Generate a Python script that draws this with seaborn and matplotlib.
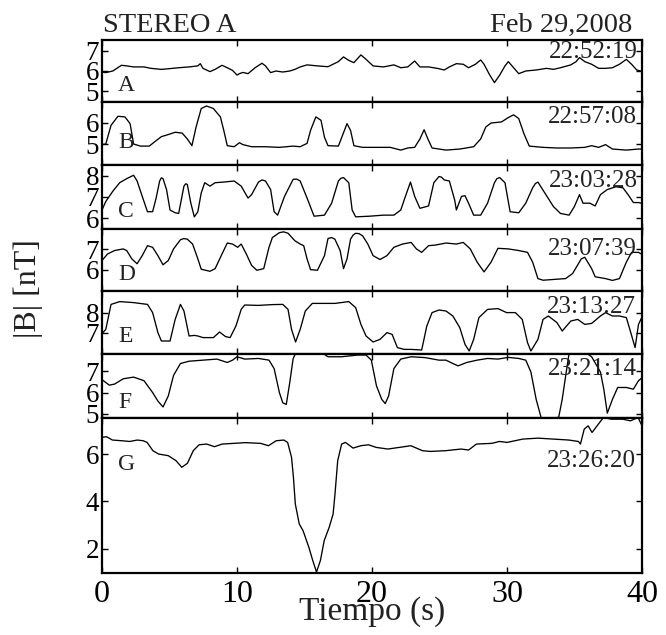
import numpy as np
import pandas as pd
import matplotlib
matplotlib.use("Agg")
import matplotlib.pyplot as plt
import seaborn as sns

# ---------------- data ----------------
A_t = [0.00, 0.28, 0.80, 1.44, 1.83, 2.34, 3.11, 3.62, 4.40, 4.91, 5.68, 6.45, 7.10, 7.28, 7.48, 8.00,
       8.38, 8.89, 9.28, 9.67, 10.00, 10.18, 10.44, 10.82, 11.34, 11.85, 12.11, 12.49, 12.88, 13.39,
       13.91, 14.29, 14.68, 15.19, 15.96, 16.74, 17.51, 17.89, 18.28, 18.66, 19.18, 19.56, 20.08,
       20.85, 21.62, 22.13, 22.65, 23.16, 23.55, 24.19, 24.83, 25.35, 25.73, 26.25, 26.76, 27.15,
       27.66, 28.05, 28.30, 28.69, 29.07, 29.46, 29.85, 30.10, 30.49, 30.87, 31.39, 32.16, 32.93,
       33.44, 33.96, 34.73, 35.12, 35.37, 35.76, 36.27, 36.79, 37.30, 37.81, 38.33, 38.84, 39.23,
       39.61, 40.00]
A_b = [5.95, 5.92, 6.00, 6.28, 6.25, 6.20, 6.20, 6.13, 6.08, 6.11, 6.16, 6.20, 6.25, 6.36, 6.13, 5.97,
       6.08, 6.28, 6.16, 6.03, 5.80, 5.87, 5.93, 5.87, 6.16, 6.38, 6.25, 5.92, 6.00, 5.95,
       6.00, 6.08, 6.20, 6.30, 6.25, 6.21, 6.46, 6.69, 6.52, 6.41, 6.79, 6.57, 6.25,
       6.20, 6.30, 6.16, 6.20, 6.49, 6.20, 6.20, 6.13, 6.05, 6.20, 6.36, 6.33, 6.16,
       6.33, 6.54, 6.33, 5.84, 5.43, 5.80, 6.25, 6.46, 6.16, 5.87, 6.00, 6.05, 6.13,
       6.08, 6.16, 6.30, 6.46, 6.66, 6.46, 6.33, 6.13, 6.13, 6.16, 6.33, 6.57, 6.33,
       6.05, 5.98]

B_t = [0.00, 0.28, 0.67, 1.18, 1.70, 2.08, 2.34, 2.85, 3.50, 4.01, 4.40, 4.91, 5.42, 5.94, 6.32, 6.66,
       6.97, 7.35, 7.74, 8.25, 8.77, 9.02, 9.28, 9.79, 10.18, 10.44, 11.08, 12.11, 13.14, 14.16,
       14.68, 15.19, 15.45, 15.84, 16.22, 16.48, 16.74, 17.51, 17.76, 18.15, 18.41, 18.66, 19.31,
       20.33, 21.36, 22.13, 22.65, 23.16, 23.55, 23.86, 24.14, 24.45, 25.48, 26.50, 27.53, 28.05,
       28.43, 28.82, 29.59, 30.10, 30.49, 30.87, 31.26, 31.65, 32.67, 33.70, 34.73, 35.76, 36.27,
       36.79, 37.30, 37.81, 38.84, 39.74, 40.00]
B_b = [4.97, 5.00, 5.89, 6.32, 6.29, 5.97, 5.00, 4.90, 4.90, 5.16, 5.35, 5.45, 5.56, 5.52, 5.24, 4.92,
       5.81, 6.69, 6.81, 6.69, 6.29, 5.65, 4.92, 4.87, 5.06, 4.97, 4.87, 4.87, 4.84, 4.90,
       4.87, 5.03, 5.65, 6.29, 6.13, 5.32, 4.92, 4.90, 5.32, 5.97, 5.65, 4.92, 4.84,
       4.84, 4.84, 4.71, 4.81, 4.84, 5.24, 5.68, 5.24, 4.81, 4.71, 4.76, 4.87, 5.24,
       5.81, 6.00, 6.05, 6.26, 6.39, 6.21, 5.48, 4.90, 4.84, 4.81, 4.81, 4.84, 4.92,
       4.84, 4.97, 4.76, 4.71, 4.76, 4.76]

C_t = [0.00, 0.28, 0.80, 1.31, 1.83, 2.34, 2.60, 2.98, 3.37, 3.75, 4.01, 4.27, 4.40, 4.52, 4.78, 5.04,
       5.42, 5.68, 6.07, 6.20, 6.32, 6.58, 6.84, 7.10, 7.35, 7.61, 8.00, 8.38, 9.02, 9.79, 10.31,
       10.82, 11.08, 11.59, 11.85, 12.11, 12.49, 12.75, 13.01, 13.52, 14.16, 14.42, 14.68, 15.19,
       15.71, 16.48, 17.01, 17.51, 17.70, 17.89, 18.28, 18.53, 18.79, 19.82, 20.85, 21.62, 22.13,
       22.52, 22.85, 23.16, 23.55, 24.19, 24.58, 24.96, 25.15, 25.35, 25.73, 26.12, 26.25, 26.63,
       26.89, 27.15, 27.53, 28.05, 28.56, 29.07, 29.25, 29.46, 29.85, 30.23, 30.87, 31.39, 31.90,
       32.10, 32.29, 32.80, 33.44, 33.96, 34.60, 34.99, 35.37, 35.63, 36.14, 36.53, 36.92, 37.43,
       38.07, 38.59, 38.97, 39.36, 39.74, 40.00]
C_b = [6.39, 6.79, 7.27, 7.67, 7.86, 8.02, 7.75, 7.03, 6.31, 6.31, 6.95, 7.75, 7.90, 7.86, 7.35, 6.39,
       6.26, 6.23, 7.51, 7.62, 7.59, 6.71, 6.07, 6.31, 7.19, 7.67, 7.51, 7.67, 7.70, 7.75, 7.51,
       6.95, 7.11, 7.70, 7.80, 7.75, 7.35, 6.31, 6.15, 7.03, 7.83, 7.84, 7.75, 6.95,
       6.10, 6.15, 6.71, 7.75, 7.88, 7.91, 7.67, 6.39, 6.07, 6.10, 6.15, 6.15, 6.39,
       7.11, 7.70, 7.03, 6.47, 6.58, 7.67, 7.96, 7.93, 7.80, 7.75, 6.87, 6.39, 7.03,
       7.06, 6.71, 6.15, 6.15, 6.71, 7.67, 7.86, 7.91, 7.67, 6.31, 6.26, 6.71, 7.43,
       7.63, 7.70, 7.19, 6.55, 6.23, 6.15, 6.55, 7.11, 6.71, 6.71, 6.58, 7.11, 7.35,
       7.48, 7.43, 7.11, 6.74, 6.74, 6.70]

D_t = [0.00, 0.41, 0.93, 1.57, 1.83, 2.21, 2.60, 2.98, 3.37, 3.75, 4.14, 4.52, 4.91, 5.30, 5.81, 6.05,
       6.32, 6.71, 7.10, 7.35, 8.00, 8.38, 8.89, 9.28, 9.67, 10.05, 10.31, 10.69, 11.08, 11.47,
       11.98, 12.37, 12.62, 13.14, 13.45, 13.78, 14.29, 14.68, 14.94, 15.19, 15.45, 15.96, 16.48,
       16.74, 17.00, 17.25, 17.64, 17.89, 18.15, 18.41, 18.60, 18.79, 19.05, 19.31, 19.69, 20.08,
       20.59, 21.11, 21.62, 22.26, 22.90, 23.29, 23.68, 24.19, 24.70, 25.48, 26.25, 26.76, 27.28,
       27.79, 28.30, 28.82, 29.33, 30.10, 30.87, 31.52, 31.90, 32.29, 32.67, 33.70, 34.34, 34.86,
       35.50, 35.76, 36.27, 36.53, 37.30, 37.81, 38.33, 38.84, 39.23, 39.74, 40.00]
D_b = [6.45, 6.77, 6.94, 7.02, 6.94, 6.53, 6.29, 6.69, 7.18, 7.10, 6.69, 6.24, 6.45, 7.02, 7.47, 7.53,
       7.50, 7.26, 6.53, 6.02, 5.92, 6.05, 6.77, 7.31, 7.26, 7.10, 7.26, 6.77, 6.21, 5.97,
       6.05, 7.10, 7.58, 7.82, 7.86, 7.79, 7.42, 7.26, 7.18, 6.53, 6.00, 5.97, 6.69,
       7.53, 7.58, 7.50, 6.94, 6.05, 6.53, 7.50, 7.70, 7.79, 7.77, 7.66, 7.26, 6.69,
       6.50, 6.69, 7.10, 7.26, 7.34, 7.02, 6.85, 7.18, 7.21, 7.31, 7.26, 7.34, 7.02,
       6.37, 5.89, 6.37, 7.05, 7.02, 6.94, 6.85, 6.37, 5.56, 5.48, 5.53, 5.56, 5.81,
       6.53, 6.61, 6.05, 5.65, 5.56, 5.47, 5.56, 6.37, 6.85, 6.85, 6.75]

E_t = [0.00, 0.28, 0.67, 1.31, 2.34, 3.37, 3.75, 4.14, 4.40, 5.04, 5.42, 5.81, 6.07, 6.45, 6.84, 7.10,
       7.48, 8.25, 8.71, 9.15, 9.49, 9.92, 10.31, 10.57, 11.59, 12.62, 13.39, 13.78, 14.04, 14.34,
       14.68, 15.06, 15.58, 16.48, 17.25, 18.28, 18.79, 19.18, 19.56, 20.08, 20.59, 21.11, 21.49,
       21.88, 22.39, 22.90, 23.68, 24.06, 24.45, 24.96, 25.48, 25.99, 26.50, 26.89, 27.20, 27.53,
       27.92, 28.56, 29.33, 29.97, 30.62, 31.13, 31.52, 31.77, 32.29, 32.67, 33.06, 33.70, 34.09,
       34.73, 35.24, 35.76, 36.27, 36.92, 37.30, 37.81, 38.33, 38.84, 39.10, 39.49, 39.74, 40.00]
E_b = [6.97, 7.18, 8.43, 8.57, 8.52, 8.43, 8.02, 7.02, 6.60, 6.60, 7.68, 8.43, 8.10, 6.85, 6.88, 6.85,
       6.77, 6.77, 7.05, 6.82, 6.77, 7.35, 8.18, 8.40, 8.38, 8.42, 8.43, 8.18, 7.18, 6.55,
       7.18, 8.10, 8.48, 8.48, 8.48, 8.57, 8.27, 7.43, 6.85, 6.55, 6.68, 7.02, 6.93,
       6.27, 6.18, 6.18, 6.15, 7.35, 8.02, 8.15, 8.10, 7.85, 7.27, 6.43, 6.10, 6.68,
       7.77, 8.18, 8.22, 8.02, 8.02, 7.68, 6.52, 6.10, 6.68, 7.68, 7.85, 7.52, 7.10,
       7.60, 7.68, 7.43, 7.48, 7.85, 8.02, 7.85, 7.85, 7.77, 7.18, 6.27, 7.43, 7.80]

F_t = [0.00, 0.54, 0.93, 1.57, 2.34, 3.11, 3.75, 4.14, 4.52, 4.91, 5.30, 5.81, 6.45, 7.48, 8.51, 9.28,
       9.67, 10.00, 10.57, 11.59, 12.37, 12.75, 13.14, 13.39, 13.65, 13.91, 14.16, 14.42, 15.19,
       15.96, 16.74, 17.76, 18.92, 19.56, 19.95, 20.33, 20.72, 20.98, 21.23, 21.62, 22.13, 22.90,
       23.93, 24.96, 25.48, 25.99, 26.38, 27.02, 27.79, 28.56, 29.33, 30.10, 30.87, 31.39, 31.77,
       32.16, 32.54, 33.19, 33.83, 34.09, 34.35, 34.60, 35.50, 36.27, 36.92, 37.17, 37.43, 37.81,
       38.20, 38.84, 39.36, 39.74, 40.00]
F_b = [6.61, 6.35, 6.40, 6.65, 6.73, 6.56, 6.00, 5.60, 5.32, 5.84, 6.81, 7.37, 7.48, 7.53, 7.58, 7.42,
       7.53, 7.69, 7.58, 7.61, 7.53, 7.13, 6.00, 5.52, 5.44, 6.48, 7.61, 7.94, 8.02,
       8.02, 7.69, 7.69, 7.77, 7.77, 7.53, 6.32, 5.68, 5.48, 5.84, 7.13, 7.58, 7.69,
       7.65, 7.53, 7.53, 7.37, 7.26, 7.42, 7.53, 7.61, 7.58, 7.66, 7.61, 7.53, 6.97,
       5.68, 4.79, 4.74, 4.84, 5.68, 6.81, 7.85, 8.02, 7.69, 6.97, 6.16, 5.03, 5.68,
       6.24, 6.24, 6.16, 6.56, 6.70]

G_t = [0.00, 0.34, 0.77, 1.48, 2.05, 2.62, 3.05, 3.34, 3.77, 4.19, 4.91, 5.48, 5.91, 6.33, 6.76, 7.19,
       7.76, 8.33, 8.90, 9.76, 10.61, 11.75, 12.33, 12.90, 13.47, 13.75, 14.04, 14.18, 14.32, 14.61,
       14.89, 15.32, 15.61, 15.89, 16.18, 16.46, 16.83, 17.12, 17.26, 17.46, 17.75, 18.03, 18.60,
       19.17, 19.74, 20.31, 21.17, 22.03, 22.88, 23.74, 24.31, 25.45, 26.59, 27.16, 27.73, 28.87,
       29.44, 30.01, 31.16, 32.30, 33.44, 34.58, 35.29, 35.44, 35.72, 36.01, 36.30, 36.58, 36.86,
       37.15, 37.72, 38.57, 39.14, 39.71, 40.00]
G_b = [6.70, 6.73, 6.59, 6.56, 6.53, 6.59, 6.56, 6.49, 6.14, 6.00, 5.93, 5.72, 5.44, 5.61, 6.14, 6.39,
       6.42, 6.31, 6.42, 6.45, 6.48, 6.45, 6.35, 6.56, 6.59, 6.49, 5.86, 5.02, 3.89, 3.05,
       2.77, 2.07, 1.51, 1.02, 1.51, 2.35, 2.91, 3.47, 4.32, 5.72, 6.42, 6.49, 6.25,
       6.35, 6.39, 6.28, 6.21, 6.28, 6.35, 6.14, 6.11, 6.14, 6.21, 6.17, 6.42, 6.45,
       6.53, 6.49, 6.63, 6.67, 6.63, 6.59, 6.53, 6.42, 7.05, 7.19, 6.91, 7.12, 7.33,
       7.54, 7.47, 7.47, 7.40, 7.54, 7.19]

letters = ["A", "B", "C", "D", "E", "F", "G"]
times = ["22:52:19", "22:57:08", "23:03:28", "23:07:39", "23:13:27", "23:21:14", "23:26:20"]
series_t = [A_t, B_t, C_t, D_t, E_t, F_t, G_t]
series_b = [A_b, B_b, C_b, D_b, E_b, F_b, G_b]
ylims = [(4.48, 7.52), (4.0, 7.0), (5.5, 8.5), (4.95, 8.0), (5.95, 9.1), (4.8, 7.82), (0.98, 7.52)]
yticks = [[5, 6, 7], [5, 6], [6, 7, 8], [6, 7], [7, 8], [5, 6, 7], [2, 4, 6]]
x_ticks = [0, 10, 20, 30, 40]

# ---------------- style ----------------
sns.set_style("ticks")
plt.rcParams["font.family"] = ["Liberation Serif", "DejaVu Serif"]

W, H = 666, 635
fig = plt.figure(figsize=(W / 100, H / 100), dpi=100)

def fx(px):
    return px / W

def fy(py):
    return 1 - py / H

left_px, right_px = 102, 642
bounds = [40, 102, 165, 229, 291, 354, 418, 573]
time_base = [58, 123, 187, 255, 313, 375, 467]
time_right = [638, 637, 638, 637, 636, 637, 636]
letter_base = [91, 148, 217, 280, 342, 408, 470]

for i in range(7):
    top, bot = bounds[i], bounds[i + 1]
    ax = fig.add_axes([fx(left_px), fy(bot), fx(right_px - left_px), (bot - top) / H])
    df = pd.DataFrame({"t": series_t[i], "b": series_b[i]})
    sns.lineplot(data=df, x="t", y="b", ax=ax, color="black", linewidth=0.95,
                 estimator=None, sort=False)
    ax.set_xlim(0, 40)
    ax.set_ylim(*ylims[i])
    ax.set_yticks(yticks[i])
    ax.set_xticks(x_ticks)
    ax.set_xlabel("")
    ax.set_ylabel("")
    ax.tick_params(direction="in", length=4, width=1.0, top=True, right=True,
                   labelsize=19.5, pad=2, colors="black")
    if i < 6:
        ax.tick_params(labelbottom=False)
    else:
        ax.tick_params(axis="x", labelsize=23, pad=5)
    for s in ax.spines.values():
        s.set_linewidth(1.6)
        s.set_color("black")
    fig.text(fx(time_right[i]), fy(time_base[i]), times[i], ha="right", va="baseline",
             fontsize=18, color="#222222")
    fig.text(fx(118), fy(letter_base[i]), letters[i], ha="left", va="baseline",
             fontsize=17, color="#222222")

fig.text(fx(103), fy(32), "STEREO A", ha="left", va="baseline", fontsize=20.5, color="#222222")
fig.text(fx(632), fy(32), "Feb 29,2008", ha="right", va="baseline", fontsize=20.5, color="#222222")
fig.text(fx(372), fy(620), "Tiempo (s)", ha="center", va="baseline", fontsize=24, color="#222222")
fig.text(fx(28), fy(289), "|B| [nT]", ha="center", va="center", rotation=90, fontsize=23,
         color="#222222")

fig.savefig("out.png", dpi=100)
